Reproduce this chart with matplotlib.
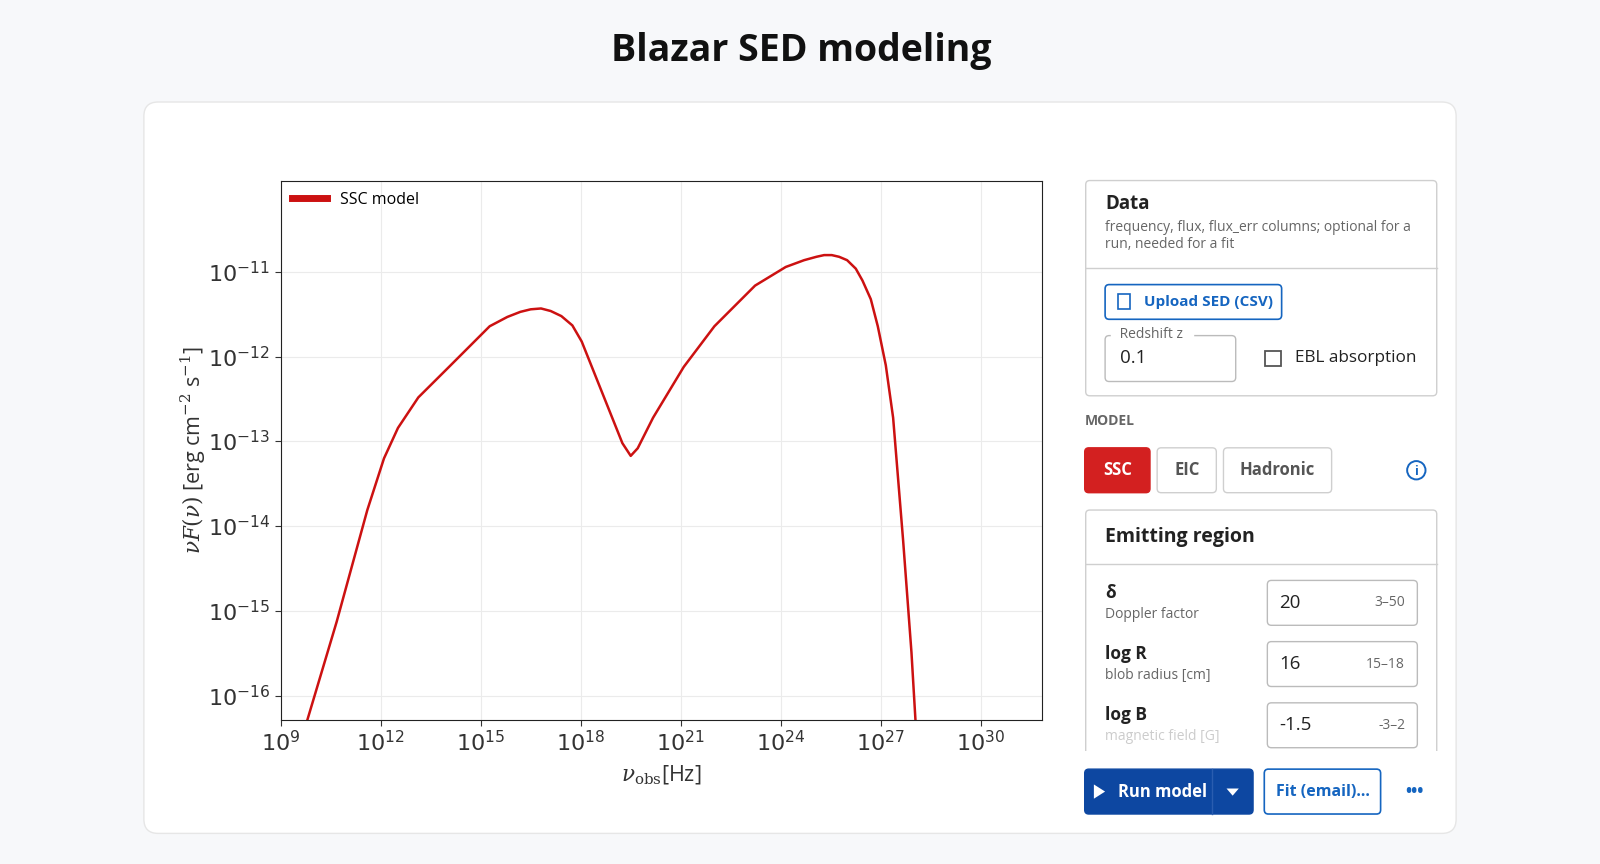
import numpy as np
import matplotlib
matplotlib.use('Agg')
from matplotlib import pyplot as plt
from matplotlib.patches import FancyBboxPatch, Rectangle, Circle, Polygon

plt.rcParams['font.family'] = ['Open Sans', 'DejaVu Sans']
plt.rcParams['mathtext.fontset'] = 'dejavuserif'

# SSC model curve, log10 of frequency [Hz] and log10 of nuF(nu) [erg cm^-2 s^-1]
log_nu = [9.80, 10.68, 11.60, 12.10, 12.52, 13.13, 14.05, 15.27, 15.80, 16.19, 16.50, 16.81, 17.10,
          17.42, 17.75, 18.03, 18.64, 19.25, 19.50, 19.71, 20.17, 21.09, 22.01, 23.23, 24.15,
          24.70, 25.07, 25.30, 25.53, 25.75, 25.99, 26.25, 26.45, 26.70, 26.91, 27.15, 27.37,
          27.67, 27.92, 28.04]
log_flux = [-16.29, -15.13, -13.81, -13.20, -12.84, -12.48, -12.12, -11.64, -11.53, -11.47, -11.44, -11.43, -11.46,
            -11.52, -11.63, -11.82, -12.42, -13.02, -13.17, -13.08, -12.72, -12.12, -11.64, -11.16, -10.94,
            -10.86, -10.82, -10.80, -10.80, -10.82, -10.86, -10.96, -11.10, -11.32, -11.64, -12.10, -12.72,
            -14.17, -15.49, -16.29]
x_ticks = [9, 12, 15, 18, 21, 24, 27, 30]
y_ticks = [-16, -15, -14, -13, -12, -11]

BLUE = '#1565c0'
DARK = '#0d47a1'
RED = '#d32020'
GRAY = '#666666'
BORDER = '#cfcfcf'
W, H = 1568, 847

fig = plt.figure(figsize=(16, 8.64), dpi=100)
fig.patch.set_facecolor('#f7f8fa')

# overlay axes in screenshot pixel coordinates for the page ui
ui = fig.add_axes([0, 0, 1, 1])
ui.set_xlim(0, W)
ui.set_ylim(H, 0)
ui.axis('off')


def box(x0, y0, x1, y1, fc='white', ec=BORDER, lw=1, r=4, z=1):
    ui.add_patch(FancyBboxPatch((x0, y0), x1 - x0, y1 - y0,
                                boxstyle='round,pad=0,rounding_size=%d' % r,
                                fc=fc, ec=ec, lw=lw, zorder=z))


def txt(x, y, s, size=11, color='#222222', weight='normal', ha='left', **kw):
    ui.text(x, y, s, fontsize=size, color=color, fontweight=weight, ha=ha, va='center', **kw)


ui.text(785, 50, 'Blazar SED modeling', fontsize=27, fontweight='bold', ha='center', va='center', color='#111111')
box(141, 100, 1427, 817, ec='#e6e6e6', r=14)

# Data card
box(1064, 177, 1408, 388)
ui.plot([1064, 1408], [263, 263], color=BORDER, lw=1, zorder=2)
txt(1083, 200, 'Data', 13.5, weight='bold')
txt(1083, 223, 'frequency, flux, flux_err columns; optional for a', 10, GRAY)
txt(1083, 240, 'run, needed for a fit', 10, GRAY)
box(1083, 279, 1256, 313, ec=BLUE, lw=1.2)
txt(1121, 296, 'Upload SED (CSV)', 11, BLUE, 'bold')
ui.add_patch(Rectangle((1096, 288), 11, 15, fc='none', ec=BLUE, lw=1.2, zorder=3))
box(1083, 329, 1211, 374, ec='#bbbbbb')
ui.text(1094, 328, ' Redshift z ', fontsize=10, color=GRAY, va='center', backgroundcolor='white', zorder=4)
txt(1098, 351, '0.1', 13.5)
ui.add_patch(Rectangle((1240, 344), 15, 15, fc='white', ec='#555555', lw=1.3, zorder=3))
txt(1269, 351, 'EBL absorption', 12.3)

# Model selection
txt(1063, 413, 'MODEL', 10, GRAY, 'bold')
box(1063, 439, 1127, 483, fc=RED, ec=RED)
txt(1095, 461, 'SSC', 12, 'white', 'bold', ha='center')
box(1134, 439, 1192, 483)
txt(1163, 461, 'EIC', 12, '#555555', 'bold', ha='center')
box(1199, 439, 1305, 483)
txt(1252, 461, 'Hadronic', 12, '#555555', 'bold', ha='center')
ui.add_patch(Circle((1388, 461), 9, fc='none', ec=BLUE, lw=1.4, zorder=3))
txt(1388, 462, 'i', 9, BLUE, 'bold', ha='center')

# Emitting region card
box(1064, 500, 1408, 740)
ui.plot([1064, 1408], [553, 553], color=BORDER, lw=1, zorder=2)
txt(1083, 526, 'Emitting region', 14, weight='bold')
rows = [('δ', 'Doppler factor', '20', '3–50', 569),
        ('log R', 'blob radius [cm]', '16', '15–18', 629),
        ('log B', 'magnetic field [G]', '-1.5', '-3–2', 689)]
for name, desc, val, rng, y in rows:
    txt(1083, y + 12, name, 12.5, weight='bold')
    txt(1083, y + 33, desc, 10, GRAY if y < 680 else '#cccccc')
    box(1242, y, 1389, y + 44, ec='#bbbbbb')
    txt(1254, y + 22, val, 13.5)
    txt(1377, y + 22, rng, 10, GRAY, ha='right')
ui.add_patch(Rectangle((1060, 736), 360, 14, fc='white', ec='none', zorder=5))

# Action buttons
box(1063, 754, 1228, 798, fc=DARK, ec=DARK)
ui.plot([1188, 1188], [754, 798], color='#2a5db0', lw=1, zorder=3)
ui.add_patch(Polygon([[1072, 769], [1072, 783], [1083, 776]], fc='white', zorder=3))
txt(1096, 776, 'Run model', 12, 'white', 'bold')
ui.add_patch(Polygon([[1202, 773], [1214, 773], [1208, 780]], fc='white', zorder=3))
box(1239, 754, 1353, 798, ec=BLUE, lw=1.2)
txt(1296, 776, 'Fit (email)...', 11.5, BLUE, 'bold', ha='center')
txt(1386, 776, '•••', 12, BLUE, 'bold', ha='center')

# SED chart
ax = fig.add_axes([275 / W, 1 - 706 / H, 746 / W, 529 / H])
ax.set_facecolor('white')
ax.plot(10.0 ** np.array(log_nu), 10.0 ** np.array(log_flux), color='#cc1111', lw=1.8, label='SSC model')
ax.set_xscale('log')
ax.set_yscale('log')
ax.set_xlim(1e9, 10 ** 31.83)
ax.set_ylim(10 ** -16.29, 10 ** -9.92)
ax.set_xticks([10.0 ** t for t in x_ticks])
ax.set_xticklabels([r'$\mathsf{10}^{\mathsf{%d}}$' % t for t in x_ticks])
ax.set_yticks([10.0 ** t for t in y_ticks])
ax.set_yticklabels([r'$\mathsf{10}^{\mathsf{%d}}$' % t for t in y_ticks])
ax.minorticks_off()
ax.tick_params(labelsize=16, length=4, color='#333333', labelcolor='#333333')
ax.grid(True, color='#ebebeb', lw=0.8)
for s in ax.spines.values():
    s.set_color('#222222')
ax.set_xlabel(r'$\nu_{\rm obs}$[Hz]', fontsize=15.5, color='#333333', labelpad=6)
ax.set_ylabel(r'$\nu F(\nu)$ [erg cm$^{-2}$ s$^{-1}$]', fontsize=15.5, color='#333333', labelpad=0)
leg = ax.legend(loc='upper left', frameon=False, fontsize=11.5, handlelength=2.2, borderaxespad=0.3)
for h in leg.get_lines():
    h.set_linewidth(5)

fig.savefig('out.png', dpi=100, facecolor=fig.get_facecolor())
